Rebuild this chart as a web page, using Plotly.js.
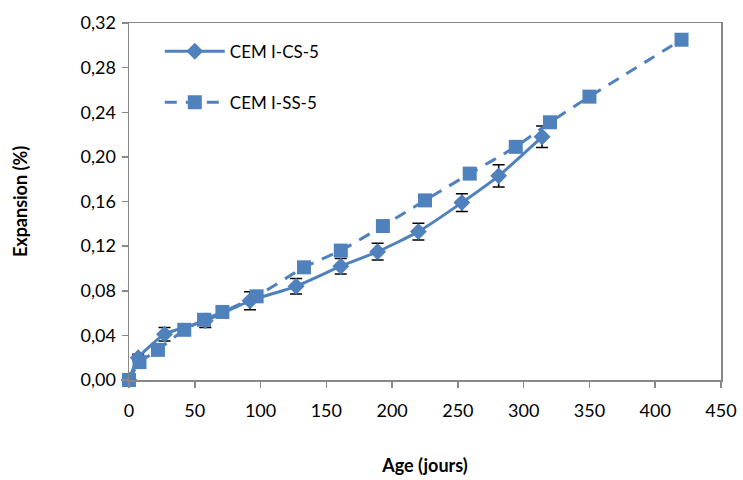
<!DOCTYPE html>
<html>
<head>
<meta charset="utf-8">
<script src="https://cdn.plot.ly/plotly-3.0.1.min.js"></script>
<style>html,body{margin:0;padding:0;background:#fff;}#chart{width:743px;height:480px;}</style>
</head>
<body>
<div id="chart"></div>
<script>
// Data
const seriesNames = ["CEM I-CS-5", "CEM I-SS-5"];
const ageCS = [0, 7, 27, 58, 92, 127, 161, 189, 220, 253, 281, 314];
const expCS = [0, 0.020, 0.041, 0.053, 0.071, 0.084, 0.102, 0.115, 0.133, 0.159, 0.183, 0.218];
const errCS = [0, 0.003, 0.006, 0.006, 0.008, 0.007, 0.007, 0.0075, 0.0075, 0.008, 0.010, 0.0097];
const ageSS = [0, 8, 22, 42, 57, 71, 97, 133, 161, 193, 225, 259, 294, 320, 350, 420];
const expSS = [0, 0.016, 0.027, 0.045, 0.054, 0.061, 0.075, 0.101, 0.116, 0.138, 0.161, 0.185, 0.209, 0.231, 0.254, 0.305];
const yTicks = [0, 0.04, 0.08, 0.12, 0.16, 0.20, 0.24, 0.28, 0.32];
const xTicks = [0, 50, 100, 150, 200, 250, 300, 350, 400, 450];

const blue = "#4F81BD";
const font = "Lato, 'Open Sans', sans-serif";

const traces = [
  {
    x: ageCS, y: expCS, name: seriesNames[0], type: "scatter", mode: "lines+markers",
    legendgroup: "a",
    line: {color: blue, width: 3, shape: "spline", smoothing: 0.5},
    marker: {symbol: "diamond", size: 13, color: blue},
    error_y: {type: "data", array: errCS, visible: true, color: "#000", thickness: 1.5, width: 6},
    cliponaxis: false
  },
  {
    x: ageSS, y: expSS, name: seriesNames[1], type: "scatter", mode: "lines+markers",
    legendgroup: "b",
    line: {color: blue, width: 3, dash: "12px,9px", shape: "spline", smoothing: 0.4},
    marker: {symbol: "square", size: 14, color: blue},
    cliponaxis: false
  }
];

const axisLine = {showline: true, linecolor: "#888888", linewidth: 1.5, mirror: true,
  showgrid: false, zeroline: false, ticks: "outside", ticklen: 6, tickcolor: "#888888", tickwidth: 1.5};

const layout = {
  width: 743, height: 480,
  margin: {l: 129, r: 22, t: 23, b: 100},
  paper_bgcolor: "#fff", plot_bgcolor: "#fff",
  separators: ", ",
  font: {family: font, size: 16, color: "#000"},
  xaxis: Object.assign({}, axisLine, {
    range: [0, 450], tickvals: xTicks, ticktext: xTicks.map(String),
    tickfont: {size: 18}, ticklabelstandoff: 8,
    title: {text: "<b>Age (jours)</b>", font: {size: 18}, standoff: 39}
  }),
  yaxis: Object.assign({}, axisLine, {
    range: [0, 0.32], tickvals: yTicks, tickformat: ".2f",
    tickfont: {size: 18}, ticklabelstandoff: 2,
    title: {text: "<b>Expansion (%)</b>", font: {size: 18}, standoff: 48}
  }),
  showlegend: true,
  legend: {x: 0.052, y: 0.97, xanchor: "left", yanchor: "top", bgcolor: "rgba(0,0,0,0)",
    font: {size: 17}, traceorder: "grouped", tracegroupgap: 26, itemwidth: 60}
};

Plotly.newPlot("chart", traces, layout, {displayModeBar: false, staticPlot: true});
</script>
</body>
</html>
